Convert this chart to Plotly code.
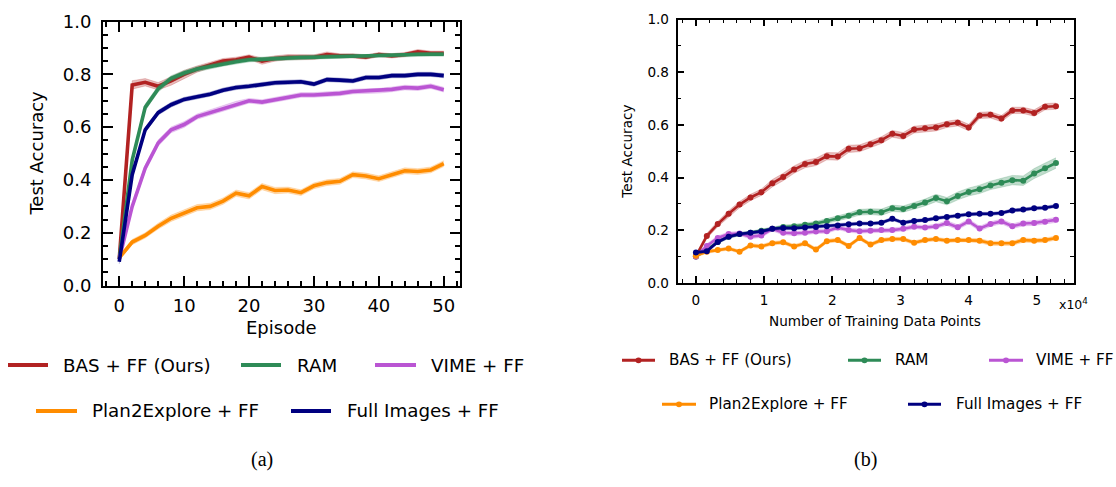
import plotly.graph_objects as go

# ---------------- data ----------------
SERIES = ["BAS + FF (Ours)", "RAM", "VIME + FF", "Plan2Explore + FF", "Full Images + FF"]
COLORS = ["#b22222", "#2e8b57", "#ba55d3", "#ff8c00", "#000080"]

episodes = [0, 2, 4, 6, 8, 10, 12, 14, 16, 18, 20, 22, 24, 26, 28, 30, 32, 34, 36, 38, 40, 42, 44, 46, 48, 50]
a_bas = [0.10, 0.76, 0.77, 0.755, 0.775, 0.80, 0.82, 0.835, 0.85, 0.855, 0.865, 0.85, 0.86, 0.865, 0.865, 0.865, 0.875, 0.87, 0.87, 0.865, 0.875, 0.87, 0.875, 0.885, 0.88, 0.88]
a_ram = [0.10, 0.475, 0.675, 0.745, 0.785, 0.805, 0.82, 0.83, 0.84, 0.848, 0.855, 0.858, 0.86, 0.862, 0.864, 0.865, 0.866, 0.868, 0.87, 0.868, 0.872, 0.872, 0.874, 0.876, 0.876, 0.876]
a_vime = [0.10, 0.30, 0.445, 0.54, 0.59, 0.61, 0.64, 0.655, 0.672, 0.688, 0.70, 0.695, 0.705, 0.713, 0.722, 0.722, 0.725, 0.728, 0.735, 0.737, 0.738, 0.743, 0.75, 0.748, 0.755, 0.742]
a_p2e = [0.105, 0.165, 0.19, 0.225, 0.255, 0.275, 0.295, 0.30, 0.32, 0.35, 0.34, 0.375, 0.36, 0.362, 0.352, 0.378, 0.39, 0.395, 0.42, 0.415, 0.405, 0.42, 0.435, 0.432, 0.438, 0.462]
a_full = [0.09, 0.42, 0.59, 0.655, 0.685, 0.705, 0.715, 0.725, 0.74, 0.75, 0.755, 0.762, 0.768, 0.77, 0.772, 0.763, 0.78, 0.778, 0.775, 0.788, 0.788, 0.795, 0.795, 0.80, 0.80, 0.795]

a_bas_sd = [0.01, 0.016, 0.014, 0.014, 0.016, 0.015, 0.012, 0.01, 0.01, 0.01, 0.009, 0.012, 0.01, 0.01, 0.01, 0.009, 0.01, 0.008, 0.008, 0.008, 0.008, 0.008, 0.008, 0.009, 0.008, 0.008]
a_ram_sd = [0.01, 0.012, 0.012, 0.012, 0.01, 0.01, 0.01, 0.009, 0.009, 0.009, 0.008, 0.008, 0.008, 0.008, 0.008, 0.008, 0.008, 0.008, 0.007, 0.007, 0.007, 0.007, 0.007, 0.007, 0.007, 0.007]
a_vime_sd = [0.01, 0.012, 0.012, 0.012, 0.011, 0.011, 0.01, 0.01, 0.01, 0.01, 0.009, 0.009, 0.009, 0.009, 0.009, 0.009, 0.009, 0.009, 0.009, 0.009, 0.009, 0.009, 0.009, 0.009, 0.009, 0.009]
a_p2e_sd = [0.008, 0.01, 0.01, 0.011, 0.012, 0.012, 0.012, 0.012, 0.012, 0.012, 0.012, 0.012, 0.012, 0.011, 0.011, 0.011, 0.011, 0.011, 0.011, 0.011, 0.011, 0.011, 0.011, 0.011, 0.011, 0.011]
a_full_sd = [0.008, 0.01, 0.01, 0.009, 0.009, 0.008, 0.008, 0.008, 0.008, 0.008, 0.008, 0.008, 0.008, 0.008, 0.008, 0.008, 0.008, 0.008, 0.008, 0.008, 0.008, 0.008, 0.008, 0.008, 0.008, 0.008]

data_points = [0, 1600, 3200, 4800, 6400, 8000, 9600, 11200, 12800, 14400, 16000, 17600, 19200, 20800, 22400, 24000, 25600,
               27200, 28800, 30400, 32000, 33600, 35200, 36800, 38400, 40000, 41600, 43200, 44800, 46400, 48000, 49600, 51200, 52800]
b_bas = [0.10, 0.178, 0.223, 0.262, 0.297, 0.324, 0.344, 0.378, 0.402, 0.43, 0.451, 0.459, 0.481, 0.48, 0.509, 0.511, 0.526,
         0.542, 0.566, 0.558, 0.582, 0.587, 0.59, 0.602, 0.608, 0.59, 0.636, 0.638, 0.624, 0.655, 0.655, 0.645, 0.669, 0.671]
b_ram = [0.10, 0.125, 0.155, 0.175, 0.185, 0.19, 0.198, 0.205, 0.212, 0.215, 0.22, 0.225, 0.235, 0.245, 0.255, 0.268, 0.27,
         0.268, 0.283, 0.28, 0.292, 0.305, 0.322, 0.31, 0.33, 0.345, 0.355, 0.37, 0.38, 0.39, 0.388, 0.415, 0.435, 0.455]
b_vime = [0.10, 0.14, 0.17, 0.185, 0.187, 0.175, 0.18, 0.205, 0.19, 0.188, 0.19, 0.195, 0.196, 0.21, 0.2, 0.196, 0.198,
          0.2, 0.2, 0.205, 0.213, 0.21, 0.214, 0.227, 0.211, 0.233, 0.206, 0.223, 0.233, 0.215, 0.225, 0.227, 0.232, 0.239]
b_p2e = [0.103, 0.118, 0.124, 0.13, 0.118, 0.142, 0.138, 0.15, 0.154, 0.138, 0.15, 0.126, 0.158, 0.162, 0.14, 0.17, 0.145,
         0.162, 0.166, 0.166, 0.152, 0.162, 0.166, 0.16, 0.162, 0.162, 0.16, 0.15, 0.15, 0.15, 0.162, 0.16, 0.162, 0.17]
b_full = [0.115, 0.12, 0.155, 0.175, 0.185, 0.19, 0.195, 0.205, 0.208, 0.207, 0.21, 0.212, 0.215, 0.218, 0.222, 0.225, 0.225,
          0.228, 0.243, 0.228, 0.235, 0.238, 0.245, 0.25, 0.255, 0.26, 0.262, 0.262, 0.265, 0.275, 0.278, 0.283, 0.285, 0.292]

b_bas_sd = [0.008, 0.01, 0.01, 0.012, 0.012, 0.012, 0.012, 0.014, 0.014, 0.014, 0.014, 0.014, 0.014, 0.014, 0.014, 0.013, 0.013,
            0.013, 0.013, 0.013, 0.013, 0.013, 0.013, 0.012, 0.012, 0.012, 0.012, 0.012, 0.012, 0.012, 0.012, 0.012, 0.012, 0.012]
b_ram_sd = [0.006, 0.006, 0.006, 0.006, 0.006, 0.006, 0.006, 0.007, 0.007, 0.007, 0.008, 0.008, 0.009, 0.01, 0.01, 0.011, 0.011,
            0.012, 0.012, 0.012, 0.013, 0.013, 0.014, 0.014, 0.015, 0.015, 0.016, 0.016, 0.017, 0.018, 0.018, 0.019, 0.02, 0.02]
b_vime_sd = [0.008, 0.008, 0.008, 0.008, 0.008, 0.008, 0.008, 0.008, 0.008, 0.008, 0.008, 0.008, 0.008, 0.008, 0.008, 0.008, 0.008,
             0.008, 0.008, 0.008, 0.008, 0.008, 0.008, 0.009, 0.009, 0.009, 0.009, 0.009, 0.009, 0.009, 0.009, 0.009, 0.009, 0.01]
b_p2e_sd = [0.006, 0.006, 0.006, 0.006, 0.006, 0.007, 0.007, 0.007, 0.007, 0.007, 0.007, 0.007, 0.007, 0.007, 0.007, 0.007, 0.007,
            0.007, 0.007, 0.007, 0.007, 0.007, 0.007, 0.007, 0.007, 0.007, 0.008, 0.008, 0.008, 0.008, 0.008, 0.008, 0.008, 0.008]
b_full_sd = [0.006, 0.006, 0.006, 0.006, 0.006, 0.006, 0.006, 0.006, 0.006, 0.006, 0.006, 0.006, 0.006, 0.006, 0.006, 0.006, 0.006,
             0.006, 0.006, 0.006, 0.006, 0.006, 0.006, 0.006, 0.006, 0.006, 0.006, 0.006, 0.006, 0.006, 0.006, 0.006, 0.006, 0.006]

b_tickvals = [0, 10000, 20000, 30000, 40000, 50000]
b_ticktext = ["0", "1", "2", "3", "4", "5"]

# ---------------- layout helpers ----------------
W, H = 1116, 487
FONT = "DejaVu Sans"


def px(x):
    return x / W


def py(y):
    return 1 - y / H


def rgba(hexc, a):
    h = hexc.lstrip("#")
    r, g, b = int(h[0:2], 16), int(h[2:4], 16), int(h[4:6], 16)
    return f"rgba({r},{g},{b},{a})"


fig = go.Figure()


def add_series(x, y, sd, color, xa, ya, width, marker):
    up = [v + s for v, s in zip(y, sd)]
    lo = [v - s for v, s in zip(y, sd)]
    fig.add_trace(go.Scatter(x=x, y=up, mode="lines", line=dict(width=0.6, color=rgba(color, 0.35)),
                             xaxis=xa, yaxis=ya, showlegend=False, hoverinfo="skip"))
    fig.add_trace(go.Scatter(x=x, y=lo, mode="lines", line=dict(width=0.6, color=rgba(color, 0.35)),
                             fill="tonexty", fillcolor=rgba(color, 0.3),
                             xaxis=xa, yaxis=ya, showlegend=False, hoverinfo="skip"))
    fig.add_trace(go.Scatter(x=x, y=y, mode="lines+markers" if marker else "lines",
                             line=dict(width=width, color=color),
                             marker=dict(size=6, color=color),
                             xaxis=xa, yaxis=ya, showlegend=False))


left = [(a_bas, a_bas_sd), (a_ram, a_ram_sd), (a_vime, a_vime_sd), (a_p2e, a_p2e_sd), (a_full, a_full_sd)]
right = [(b_bas, b_bas_sd), (b_ram, b_ram_sd), (b_vime, b_vime_sd), (b_p2e, b_p2e_sd), (b_full, b_full_sd)]
for (y, sd), c in zip(left, COLORS):
    add_series(episodes, y, sd, c, "x", "y", 3.6, False)
for (y, sd), c in zip(right, COLORS):
    add_series(data_points, y, sd, c, "x2", "y2", 2.6, True)

base = dict(showline=True, linecolor="black", mirror="ticks", ticks="inside", tickcolor="black",
            showgrid=False, zeroline=False)

fig.update_layout(
    width=W, height=H, margin=dict(l=0, r=0, t=0, b=0),
    paper_bgcolor="white", plot_bgcolor="white", showlegend=False,
    font=dict(family=FONT, color="black"),
    xaxis=dict(base, domain=[px(103), px(460)], range=[-2.5, 52.5], anchor="y",
               tickmode="linear", tick0=0, dtick=10, linewidth=2, ticklen=10, tickwidth=2,
               tickfont=dict(size=18, family=FONT), ticklabelstandoff=3,
               minor=dict(ticks="inside", tickmode="linear", tick0=0, dtick=2, ticklen=5, tickwidth=1.5,
                          tickcolor="black", showgrid=False)),
    yaxis=dict(base, domain=[py(287), py(11)], range=[0, 1], anchor="x",
               tickmode="linear", tick0=0, dtick=0.2, tickformat=".1f", linewidth=2, ticklen=10, tickwidth=2,
               tickfont=dict(size=18, family=FONT), ticklabelstandoff=6,
               minor=dict(ticks="inside", tickmode="linear", tick0=0, dtick=0.05, ticklen=5, tickwidth=1.5,
                          tickcolor="black", showgrid=False)),
    xaxis2=dict(base, domain=[px(677.5), px(1073.5)], range=[-2700, 55370], anchor="y2",
                tickmode="array", tickvals=b_tickvals, ticktext=b_ticktext, linewidth=1.5, ticklen=7, tickwidth=1.5,
                tickfont=dict(size=13.6, family=FONT), ticklabelstandoff=4,
                minor=dict(ticks="inside", tickmode="linear", tick0=0, dtick=2000, ticklen=4, tickwidth=1.2,
                           tickcolor="black", showgrid=False)),
    yaxis2=dict(base, domain=[py(284), py(9)], range=[0, 1], anchor="x2",
                tickmode="linear", tick0=0, dtick=0.2, tickformat=".1f", linewidth=1.5, ticklen=7, tickwidth=1.5,
                tickfont=dict(size=13.6, family=FONT), ticklabelstandoff=4,
                minor=dict(ticks="inside", tickmode="linear", tick0=0, dtick=0.1, ticklen=4, tickwidth=1.2,
                           tickcolor="black", showgrid=False)),
)

ann = []
shapes = []


def text(x, y, s, size, family=FONT, xanchor="center", angle=0):
    ann.append(dict(x=px(x), y=py(y), xref="paper", yref="paper", text=s, showarrow=False,
                    xanchor=xanchor, yanchor="middle", textangle=angle,
                    font=dict(size=size, family=family, color="black")))


# axis titles
text(281.5, 331, "Episode", 18)
text(37, 149, "Test Accuracy", 18, angle=-90)
text(875, 324, "Number of Training Data Points", 13.6)
text(627, 147, "Test Accuracy", 13.6, angle=-90)
text(1057, 306, "x10<sup>4</sup>", 12.5, xanchor="left")

# captions
text(262, 469, "(a)", 20, family="Liberation Serif")
text(865, 469, "(b)", 20, family="Liberation Serif")

# legend (a)
leg_a = [(8, 48, 61, 370), (241, 281, 295, 370), (375, 416, 429, 370), (36, 77, 90, 418), (291, 331, 345, 418)]
for (x0, x1, tx, yy), name, c in zip(leg_a, SERIES, COLORS):
    shapes.append(dict(type="line", xref="paper", yref="paper", x0=px(x0), x1=px(x1), y0=py(yy), y1=py(yy),
                       line=dict(color=c, width=4)))
    text(tx, yy, name, 18.3, xanchor="left")

# legend (b)
leg_b = [(622, 655, 667, 365), (848, 881, 893, 365), (989, 1023, 1034, 365), (662, 696, 707, 411), (908, 941, 954, 411)]
for (x0, x1, tx, yy), name, c in zip(leg_b, SERIES, COLORS):
    shapes.append(dict(type="line", xref="paper", yref="paper", x0=px(x0), x1=px(x1), y0=py(yy), y1=py(yy),
                       line=dict(color=c, width=3)))
    xm = (x0 + x1) / 2
    shapes.append(dict(type="circle", xref="paper", yref="paper", x0=px(xm - 3), x1=px(xm + 3),
                       y0=py(yy + 3), y1=py(yy - 3), line=dict(width=0), fillcolor=c))
    text(tx, yy, name, 15.2, xanchor="left")

fig.update_layout(annotations=ann, shapes=shapes)
fig.write_html("out.html")
